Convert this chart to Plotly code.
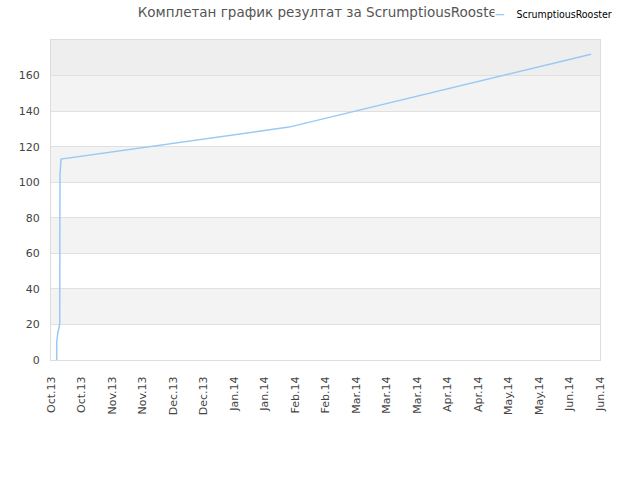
import plotly.graph_objects as go

# series
dates = [
    "2013-10-03 15:00", "2013-10-03 15:00", "2013-10-04 02:00", "2013-10-04 15:00",
    "2013-10-05 00:00", "2013-10-05 03:00", "2013-10-05 14:00",
    "2014-01-18 05:00", "2014-06-05 22:00",
]
scores = [0, 10, 15, 18, 20, 104, 113, 131, 172]
player = "ScrumptiousRooster"
line_color = "#99c9f5"

tick_dates = [
    "2013-10-01", "2013-10-15", "2013-10-29", "2013-11-12", "2013-11-26",
    "2013-12-10", "2013-12-24", "2014-01-07", "2014-01-21", "2014-02-04",
    "2014-02-18", "2014-03-04", "2014-03-18", "2014-04-01", "2014-04-15",
    "2014-04-29", "2014-05-13", "2014-05-27", "2014-06-10",
]
tick_labels = [
    "Oct.13", "Oct.13", "Nov.13", "Nov.13", "Dec.13", "Dec.13", "Jan.14", "Jan.14",
    "Feb.14", "Feb.14", "Mar.14", "Mar.14", "Mar.14", "Apr.14", "Apr.14",
    "May.14", "May.14", "Jun.14", "Jun.14",
]
y_ticks = [0, 20, 40, 60, 80, 100, 120, 140, 160]
y_max = 180

fig = go.Figure()
fig.add_trace(
    go.Scatter(
        x=dates,
        y=scores,
        mode="lines",
        line=dict(color=line_color, width=1.5),
        name=player,
        showlegend=False,
    )
)

# alternating bands behind the plot
shapes = []
for lo in y_ticks[1::2]:
    shapes.append(dict(type="rect", xref="paper", yref="y", x0=0, x1=1, y0=lo, y1=lo + 20,
                       fillcolor="#f3f3f3", line=dict(width=0), layer="below"))
shapes.append(dict(type="rect", xref="paper", yref="y", x0=0, x1=1, y0=160, y1=y_max,
                   fillcolor="#eeeeee", line=dict(width=0), layer="below"))

# legend box drawn as an annotation so it sits over the end of the title
legend_note = dict(
    xref="paper", yref="paper",
    x=(494 - 51) / 549, xanchor="left",
    y=1.081, yanchor="middle",
    width=132, align="left",
    showarrow=False,
    bgcolor="white",
    borderpad=0,
    text=f'<span style="color:{line_color}"><b>—</b></span>    {player}',
    font=dict(family="DejaVu Sans Condensed, DejaVu Sans", size=10.5, color="#000000"),
)

fig.update_layout(
    width=640,
    height=480,
    paper_bgcolor="white",
    plot_bgcolor="white",
    font=dict(family="DejaVu Sans", size=11, color="#444444"),
    title=dict(
        text="Комплетан график резултат за ScrumptiousRooster",
        x=0.5,
        xanchor="center",
        xref="container",
        y=0.975,
        yanchor="middle",
        font=dict(size=13.5, color="#555555"),
    ),
    margin=dict(l=51, r=40, t=40, b=120, autoexpand=False),
    shapes=shapes,
    annotations=[legend_note],
    showlegend=False,
)

fig.update_xaxes(
    type="date",
    range=["2013-10-01", "2014-06-10"],
    tickvals=tick_dates,
    ticktext=tick_labels,
    tickangle=-90,
    showgrid=False,
    showline=True,
    mirror=True,
    linecolor="#dddddd",
    linewidth=1,
    ticks="",
    automargin=False,
    ticklabelstandoff=11,
    tickfont=dict(size=11, color="#444444"),
)
fig.update_yaxes(
    range=[0, y_max],
    tickvals=y_ticks,
    showgrid=True,
    gridcolor="#e0e0e0",
    zeroline=False,
    showline=True,
    mirror=True,
    linecolor="#dddddd",
    linewidth=1,
    ticks="",
    automargin=False,
    ticklabelstandoff=8,
    tickfont=dict(size=11, color="#444444"),
)

fig.write_html(
    "out.html",
    config={"displayModeBar": False},
    post_script="document.body.style.margin = '0';",
)
